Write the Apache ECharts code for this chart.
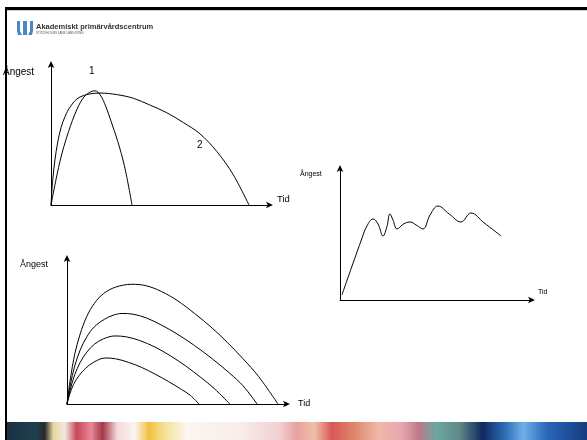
<!DOCTYPE html>
<html>
<head>
<meta charset="utf-8">
<script src="https://cdn.jsdelivr.net/npm/echarts@6/dist/echarts.min.js"></script>
<style>
html,body{margin:0;padding:0;background:#fff;}
#c{width:587px;height:440px;}
</style>
</head>
<body>
<div id="c"></div>
<script>
// Chart 1 (top left): two anxiety curves over time
const curve1 = [[0,0],[4.1,31],[8,52],[11.9,68],[15,76.5],[18,80.2],[20.1,81],[22.5,78],[25,70],[27.5,59],[30.5,45],[33.5,28],[37,0]];
const curve2 = [[0,0],[0.8,18],[1.8,31.9],[3,44],[4.6,55],[6.5,63],[8.7,69.5],[13.2,76.6],[22.4,79.4],[30,78.3],[37.6,75.7],[45,71],[52.8,65.5],[60.4,58.5],[68,50.5],[75.7,38],[83.2,21.5],[90.4,0]];
// Chart 2 (right): fluctuating curve
const wave = [[1,3.8],[6.3,25.8],[11.5,47],[14,56],[17.2,61.4],[19.8,57.6],[22.4,48.5],[24.5,56],[26,65.2],[27.6,60.6],[29.7,53.8],[33,57.5],[36.5,59.1],[40,56.5],[43.2,53.8],[46.9,64.4],[51,71.2],[57,65],[63,59.1],[68.2,65.9],[75,58.5],[83.9,48.5]];
// Chart 3 (bottom left): four curves
const curveA = [[0,0],[1.5,17],[3.5,34],[6,48],[9,60],[12.5,69],[16.5,75.5],[22,80],[29.5,82],[36,81],[43,77],[50,71],[58,62],[66,52],[73,42],[80,31],[87,19],[95.9,0]];
const curveB = [[0,0],[1.5,13],[3.5,26],[6,37],[9,46],[12.5,53],[17,58],[21,60.8],[25,62],[30,61.5],[36,59],[43,54],[50,48],[58,40],[66,31],[74,21],[80,12.5],[86.4,0]];
const curveC = [[0,0],[1.5,10],[3.5,20],[6,28.5],[9,35.5],[12.5,41],[16.5,44.6],[21.8,46.6],[27,46],[33,43.5],[40,39],[47,33],[54,26],[61,18],[67,10.5],[74,0]];
const curveD = [[0,0],[1.3,7],[3,13.5],[5.5,19.5],[8.5,24.5],[12,28.5],[17.3,31.5],[22,31],[28,28.5],[34,25],[40,20.5],[46,15.5],[52,10],[56,6],[60,0]];

const FONT = "'Liberation Sans', Arial, sans-serif";
const chart = echarts.init(document.getElementById('c'), null, {renderer:'canvas'});

function axisPair(gi){
  const common = {
    type:'value', min:0, max:100, gridIndex:gi,
    axisLabel:{show:false}, axisTick:{show:false}, splitLine:{show:false},
    axisLine:{show:true, onZero:false, lineStyle:{color:'#000', width:1}, symbol:['none','arrow'], symbolSize:[5,7], symbolOffset:[0,3]}
  };
  return [Object.assign({}, common), Object.assign({}, common)];
}
const ax = [0,1,2].map(axisPair);
function line(data, gi, sm){
  return {type:'line', xAxisIndex:gi, yAxisIndex:gi, data:data, smooth:sm||0.35, showSymbol:false, symbol:'none',
    lineStyle:{color:'#000', width:1}, silent:true, animation:false};
}
function txt(x,y,t,size,extra){
  return Object.assign({type:'text', x:x, y:y, style:Object.assign({text:t, fill:'#000', font:size+'px '+FONT, textVerticalAlign:'middle'}, extra||{})});
}

const option = {
  animation:false,
  grid:[
    {left:51, top:64, width:219, height:141},
    {left:340, top:168, width:192, height:132},
    {left:67, top:258, width:220, height:146}
  ],
  xAxis: ax.map(a=>a[0]),
  yAxis: ax.map(a=>a[1]),
  series:[
    line(curve1,0), line(curve2,0),
    line(wave,1,0.4),
    line(curveA,2), line(curveB,2), line(curveC,2), line(curveD,2)
  ],
  graphic:[
    // frame
    {type:'rect', shape:{x:5,y:7,width:582,height:3}, style:{fill:'#000'}},
    {type:'rect', shape:{x:7,y:10,width:580,height:1}, style:{fill:'#cfcfcf'}},
    {type:'rect', shape:{x:5,y:7,width:2,height:433}, style:{fill:'#000'}},
    // bottom photo strip
    {type:'rect', shape:{x:7,y:422,width:580,height:18}, style:{fill:new echarts.graphic.LinearGradient(0,0,1,0,[
      {offset:0.00,color:'#1b3142'},{offset:0.05,color:'#1f4050'},{offset:0.065,color:'#2a2a2a'},{offset:0.08,color:'#e8d8a0'},
      {offset:0.10,color:'#f0e8e0'},{offset:0.12,color:'#c84858'},{offset:0.145,color:'#e88898'},{offset:0.165,color:'#a03848'},
      {offset:0.19,color:'#f4d8dc'},{offset:0.22,color:'#fbf4f0'},{offset:0.245,color:'#f2c040'},{offset:0.27,color:'#f4e090'},
      {offset:0.31,color:'#fbf6f2'},{offset:0.40,color:'#f8eeec'},{offset:0.47,color:'#f0d0d0'},{offset:0.50,color:'#e8a0a0'},
      {offset:0.53,color:'#f0c0a8'},{offset:0.56,color:'#d85858'},{offset:0.60,color:'#e0886a'},{offset:0.64,color:'#f0b8a8'},
      {offset:0.68,color:'#e8a8b0'},{offset:0.71,color:'#c07888'},{offset:0.74,color:'#6aa8a0'},{offset:0.78,color:'#608888'},
      {offset:0.82,color:'#102860'},{offset:0.86,color:'#3070b8'},{offset:0.89,color:'#70b0e8'},{offset:0.93,color:'#2a68b8'},
      {offset:1.00,color:'#153a80'}
    ])}},
    // logo
    {type:'polygon', shape:{points:[[17,21],[20,21],[20,31],[22,35],[18,35],[17,31]]}, style:{fill:'#4a86c8'}},
    {type:'rect', shape:{x:23,y:21,width:4,height:14}, style:{fill:'#4a86c8'}},
    {type:'polygon', shape:{points:[[30,21],[33,21],[33,31],[32,35],[28,35],[30,31]]}, style:{fill:'#4a86c8'}},
    txt(36,27,'Akademiskt primärvårdscentrum',7.5,{font:'bold 7.5px '+FONT, fill:'#333'}),
    txt(36,33.5,'STOCKHOLMS LÄNS LANDSTING',3,{fill:'#555'}),
    // chart 1 labels
    txt(3,72,'Ångest',10),
    txt(89,71,'1',10),
    txt(197,145,'2',10),
    txt(277,199,'Tid',9.5),
    // chart 2 labels
    txt(300,174,'Ångest',7),
    txt(538,292,'Tid',7),
    // chart 3 labels
    txt(20,265,'Ångest',9),
    txt(298,404,'Tid',9)
  ]
};
chart.setOption(option);
</script>
</body>
</html>
